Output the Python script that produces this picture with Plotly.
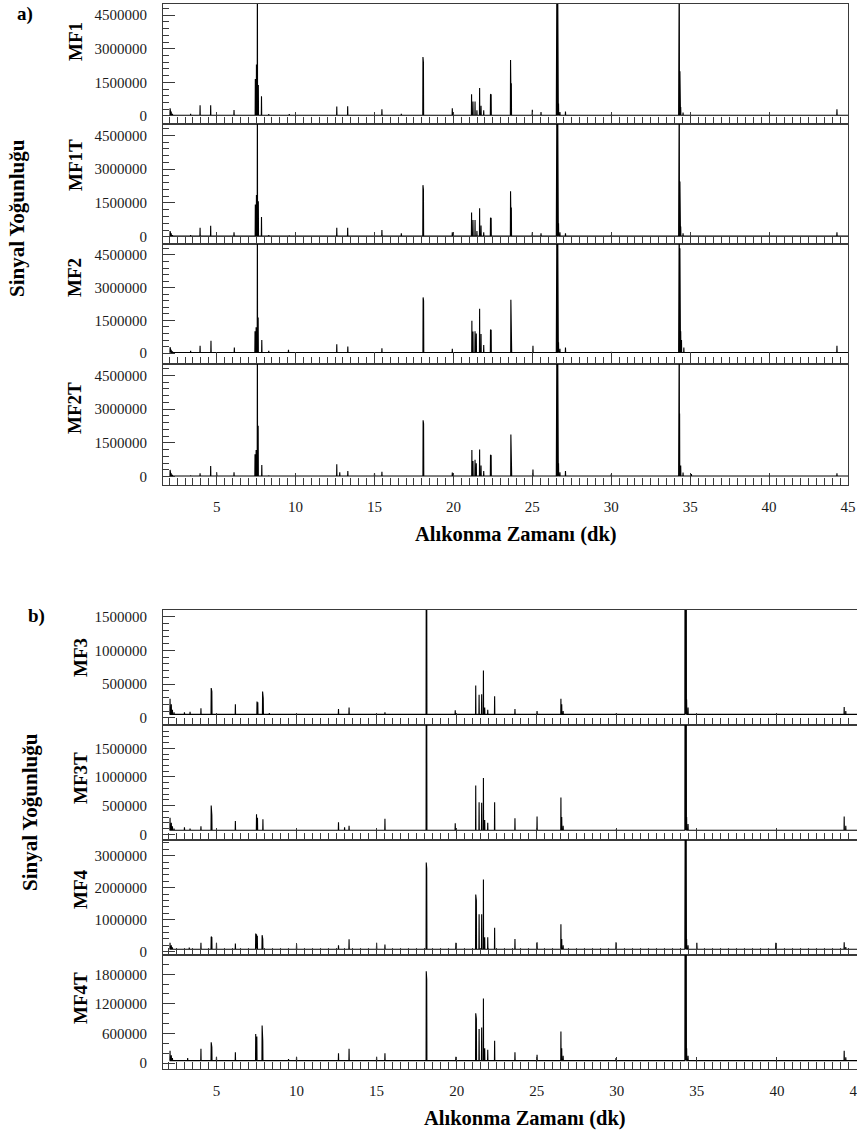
import plotly.graph_objects as go

W, H = 857, 1135

# ---------------- data: retention time (min) / peak intensity ----------------
# panel a
mf1_rt = [2.05, 2.12, 2.20, 3.35, 3.95, 4.62, 6.10, 7.45, 7.52, 7.58, 7.64, 7.84, 8.30, 9.60,
          12.61, 13.30, 15.47, 16.70, 18.07, 18.10, 19.93, 21.15, 21.24, 21.37, 21.49, 21.66,
          21.75, 21.92, 22.35, 22.39, 23.62, 23.67, 25.00, 25.55, 26.53, 26.56, 26.60, 26.66,
          26.75, 27.10, 30.00, 34.28, 34.31, 34.35, 34.40, 34.55, 44.30]
mf1_int = [340000, 200000, 100000, 100000, 480000, 480000, 270000, 1650000, 2300000, 7000000,
           1380000, 880000, 80000, 80000, 420000, 430000, 300000, 100000, 2630000, 2400000,
           340000, 970000, 640000, 640000, 250000, 1250000, 450000, 250000, 970000, 950000,
           2500000, 1460000, 280000, 170000, 7000000, 7000000, 7000000, 550000, 180000, 200000,
           60000, 7000000, 7000000, 2000000, 400000, 150000, 300000]

mf1t_rt = [2.05, 2.12, 2.20, 3.35, 3.95, 4.62, 6.10, 7.45, 7.52, 7.58, 7.64, 7.84, 8.30, 9.60,
           12.61, 13.30, 15.47, 16.70, 18.07, 18.10, 19.93, 21.15, 21.24, 21.37, 21.49, 21.66,
           21.75, 21.92, 22.35, 22.39, 23.30, 23.62, 23.67, 25.00, 25.55, 26.53, 26.56, 26.60,
           26.66, 26.75, 27.10, 30.00, 34.28, 34.31, 34.35, 34.40, 34.55, 44.30]
mf1t_int = [250000, 150000, 80000, 80000, 400000, 490000, 200000, 1430000, 1850000, 7000000,
            1580000, 880000, 80000, 60000, 400000, 400000, 300000, 150000, 2290000, 2100000,
            200000, 1080000, 740000, 740000, 250000, 1260000, 500000, 200000, 840000, 820000,
            50000, 2020000, 1300000, 200000, 150000, 7000000, 7000000, 7000000, 600000, 200000,
            150000, 80000, 7000000, 7000000, 2450000, 450000, 150000, 200000]

mf2_rt = [2.05, 2.12, 2.20, 3.35, 3.95, 4.64, 6.12, 7.43, 7.50, 7.58, 7.63, 7.86, 8.30, 9.55,
          12.61, 13.31, 15.47, 18.08, 18.11, 19.93, 21.17, 21.24, 21.37, 21.45, 21.66, 21.75,
          21.92, 22.35, 22.39, 23.64, 23.68, 25.04, 26.53, 26.56, 26.60, 26.66, 26.75, 27.10,
          30.00, 34.28, 34.31, 34.35, 34.40, 34.45, 34.60, 44.30]
mf2_int = [270000, 150000, 80000, 100000, 330000, 560000, 250000, 1000000, 1190000, 7000000,
           1630000, 600000, 100000, 150000, 410000, 300000, 220000, 2550000, 2400000, 200000,
           1480000, 990000, 1000000, 900000, 2030000, 870000, 370000, 1070000, 1050000, 2440000,
           1480000, 330000, 7000000, 7000000, 7000000, 500000, 200000, 250000, 50000, 7000000,
           7000000, 4800000, 1000000, 600000, 250000, 330000]

mf2t_rt = [2.05, 2.12, 2.20, 3.35, 3.95, 4.62, 5.00, 6.10, 7.43, 7.50, 7.58, 7.63, 7.86, 8.30,
           12.61, 12.80, 13.31, 15.00, 15.47, 18.08, 18.11, 19.93, 21.17, 21.24, 21.37, 21.45,
           21.66, 21.75, 21.92, 22.35, 22.39, 23.64, 23.68, 25.04, 26.53, 26.56, 26.60, 26.66,
           26.75, 27.10, 30.00, 34.28, 34.31, 34.33, 34.40, 34.55, 35.08, 44.30]
mf2t_int = [300000, 150000, 80000, 60000, 150000, 470000, 200000, 200000, 990000, 1180000,
            7000000, 2260000, 520000, 60000, 550000, 200000, 250000, 150000, 220000, 2500000,
            2350000, 180000, 1180000, 700000, 750000, 600000, 1200000, 500000, 250000, 960000,
            940000, 1870000, 1350000, 320000, 7000000, 7000000, 7000000, 600000, 200000, 250000,
            100000, 7000000, 7000000, 2800000, 500000, 180000, 120000, 150000]

# panel b
mf3_rt = [2.10, 2.18, 2.25, 2.35, 3.00, 3.35, 4.03, 4.67, 4.71, 6.18, 7.53, 7.58, 7.88, 7.92,
          8.30, 12.62, 13.28, 15.52, 18.10, 18.13, 19.91, 21.19, 21.40, 21.56, 21.67, 21.75,
          21.94, 22.37, 23.64, 25.02, 26.51, 26.56, 26.65, 29.95, 34.26, 34.29, 34.32, 34.36,
          34.45, 44.20, 44.30]
mf3_int = [280000, 200000, 120000, 80000, 80000, 90000, 140000, 440000, 390000, 200000,
           240000, 230000, 390000, 290000, 70000, 130000, 150000, 80000, 2200000, 2000000,
           110000, 480000, 340000, 350000, 700000, 150000, 120000, 320000, 130000, 100000,
           280000, 200000, 100000, 60000, 8000000, 8000000, 8000000, 270000, 150000, 160000,
           100000]

mf3t_rt = [2.10, 2.18, 2.25, 2.35, 3.00, 3.35, 4.03, 4.67, 4.71, 6.18, 7.50, 7.56, 7.90,
           12.62, 13.00, 13.28, 15.52, 18.10, 18.13, 19.91, 21.19, 21.40, 21.56, 21.67, 21.75,
           21.94, 22.37, 23.64, 25.02, 26.51, 26.56, 26.65, 29.95, 34.26, 34.29, 34.32, 34.36,
           34.45, 44.20, 44.30]
mf3t_int = [290000, 200000, 140000, 100000, 120000, 100000, 140000, 500000, 330000, 230000,
            350000, 290000, 260000, 210000, 120000, 150000, 270000, 2600000, 2400000, 190000,
            850000, 560000, 550000, 980000, 250000, 200000, 560000, 280000, 310000, 640000,
            300000, 150000, 80000, 8000000, 8000000, 8000000, 300000, 180000, 310000, 150000]

mf4_rt = [2.10, 2.18, 2.25, 3.30, 4.03, 4.67, 4.71, 5.00, 6.18, 7.45, 7.50, 7.55, 7.85, 7.89,
          10.00, 12.62, 13.28, 15.00, 15.52, 18.10, 18.13, 19.95, 21.19, 21.23, 21.40, 21.56,
          21.67, 21.75, 21.94, 22.37, 23.64, 25.02, 26.51, 26.56, 26.65, 29.95, 34.26, 34.29,
          34.32, 34.36, 34.45, 35.00, 39.93, 44.20, 44.30]
mf4_int = [280000, 200000, 140000, 130000, 280000, 470000, 450000, 280000, 260000, 570000,
           550000, 500000, 520000, 400000, 250000, 200000, 390000, 280000, 230000, 2790000,
           2600000, 280000, 1790000, 1600000, 1170000, 1170000, 2260000, 450000, 450000, 750000,
           400000, 300000, 860000, 400000, 200000, 300000, 8000000, 8000000, 8000000, 400000,
           200000, 280000, 280000, 300000, 150000]

mf4t_rt = [2.10, 2.18, 2.25, 3.20, 4.03, 4.67, 4.71, 5.00, 6.18, 7.45, 7.52, 7.85, 7.89, 9.50,
           10.00, 12.62, 13.28, 15.00, 15.52, 18.10, 18.13, 19.95, 21.19, 21.23, 21.40, 21.56,
           21.67, 21.75, 21.94, 22.37, 23.64, 25.02, 26.51, 26.56, 26.65, 29.95, 34.26, 34.29,
           34.32, 34.36, 34.45, 44.20, 44.30]
mf4t_int = [250000, 160000, 100000, 100000, 290000, 420000, 320000, 130000, 220000, 590000,
            540000, 760000, 450000, 80000, 130000, 200000, 290000, 130000, 200000, 1860000,
            1700000, 130000, 1010000, 900000, 690000, 720000, 1310000, 300000, 270000, 450000,
            220000, 170000, 640000, 300000, 150000, 100000, 8000000, 8000000, 8000000, 300000,
            150000, 250000, 120000]

names = ["MF1", "MF1T", "MF2", "MF2T", "MF3", "MF3T", "MF4", "MF4T"]
series_rt = [mf1_rt, mf1t_rt, mf2_rt, mf2t_rt, mf3_rt, mf3t_rt, mf4_rt, mf4t_rt]
series_int = [mf1_int, mf1t_int, mf2_int, mf2t_int, mf3_int, mf3t_int, mf4_int, mf4t_int]
baselines = [30000, 30000, 30000, 30000, 50000, 70000, 80000, 50000]

# ---------------- styling / layout parameters ----------------
FONT = "Liberation Serif"
TXT = "#1a1a1a"
AX = "#3a3a3a"

tops = [4, 124, 244, 364, 610, 725, 840, 955]
bots = [124, 244, 364, 485, 725, 840, 955, 1069]
yranges = [(-360000, 5000000), (-320000, 5000000), (-500000, 5000000), (-370000, 5000000),
           (-108000, 1600000), (-100000, 1907000), (-100000, 3490000), (-120000, 2190000)]
ymajor = [1500000] * 4 + [500000, 500000, 1000000, 600000]
yminor = [300000] * 4 + [100000, 100000, 200000, 200000]
xdom = [(163 / W, 848 / W)] * 4 + [(163 / W, 1.0)] * 4
xrng = [(1.6, 45.0)] * 4 + [(1.66, 45.0)] * 4
xend = [45.0] * 4 + [45.5] * 4
label_pos = [(75, 42), (75, 165), (75, 278), (75, 408),
             (80, 658), (80, 778), (80, 889), (80, 998)]


def spike_trace(rt, inten, base, t_end, w=0.012):
    pairs = sorted(zip(rt, inten))
    xs = [pairs[0][0] - 0.03]
    ys = [base]
    for t, h in pairs:
        xs += [t - w, t, t + w]
        ys += [base, h, base]
    xs.append(t_end)
    ys.append(base)
    return xs, ys


fig = go.Figure()
layout = dict(width=W, height=H, margin=dict(l=0, r=0, t=0, b=0, autoexpand=False),
              paper_bgcolor="white", plot_bgcolor="white", showlegend=False,
              font=dict(family=FONT, color=TXT, size=15))

for i in range(8):
    n = i + 1
    xa = "x" if n == 1 else f"x{n}"
    ya = "y" if n == 1 else f"y{n}"
    xs, ys = spike_trace(series_rt[i], series_int[i], baselines[i], xend[i])
    fig.add_trace(go.Scatter(x=xs, y=ys, mode="lines", xaxis=xa, yaxis=ya,
                             line=dict(color="black", width=1.1), hoverinfo="skip"))
    lo, hi = yranges[i]
    bottom_of_panel = i in (3, 7)
    layout["xaxis" if n == 1 else f"xaxis{n}"] = dict(
        domain=list(xdom[i]), range=list(xrng[i]), anchor=ya, automargin=False,
        showline=True, linecolor=AX, linewidth=1, mirror=True,
        showgrid=False, zeroline=False,
        ticks="inside", ticklen=12, tickwidth=1, tickcolor=AX,
        tickmode="linear", tick0=0, dtick=5,
        minor=dict(ticks="inside", ticklen=7, tickwidth=1, tickcolor=AX, dtick=0.5, tick0=0,
                   showgrid=False),
        showticklabels=bottom_of_panel, ticklabelstandoff=8, ticklabeloverflow="allow",
        tickfont=dict(family=FONT, size=15, color=TXT))
    mv = [k * yminor[i] for k in range(0, int(hi // yminor[i]) + 1)]
    layout["yaxis" if n == 1 else f"yaxis{n}"] = dict(
        domain=[1 - bots[i] / H, 1 - tops[i] / H], range=[lo, hi], anchor=xa, automargin=False,
        showline=True, linecolor=AX, linewidth=1, mirror=True,
        showgrid=False, zeroline=False,
        ticks="inside", ticklen=12, tickwidth=1, tickcolor=AX,
        tickmode="linear", tick0=0, dtick=ymajor[i], tickformat="d",
        minor=dict(ticks="inside", ticklen=6, tickwidth=1, tickcolor=AX,
                   tickmode="array", tickvals=mv, showgrid=False),
        ticklabelstandoff=12,
        tickfont=dict(family=FONT, size=15, color=TXT))

ann = []
for i, (px, py) in enumerate(label_pos):
    ann.append(dict(text=f"<b>{names[i]}</b>", x=px / W, y=1 - py / H, xref="paper", yref="paper",
                    showarrow=False, textangle=-90, xanchor="center", yanchor="middle",
                    font=dict(family=FONT, size=19, color="black")))
for px, py in [(17, 218), (30, 812)]:
    ann.append(dict(text="<b>Sinyal Yoğunluğu</b>", x=px / W, y=1 - py / H, xref="paper",
                    yref="paper", showarrow=False, textangle=-90, xanchor="center",
                    yanchor="middle", font=dict(family=FONT, size=21, color="black")))
for txt, px, py in [("a)", 25, 14), ("b)", 36, 616)]:
    ann.append(dict(text=f"<b>{txt}</b>", x=px / W, y=1 - py / H, xref="paper", yref="paper",
                    showarrow=False, xanchor="center", yanchor="middle",
                    font=dict(family=FONT, size=19, color="black")))
for px, py in [(516, 534), (525, 1118)]:
    ann.append(dict(text="<b>Alıkonma Zamanı (dk)</b>", x=px / W, y=1 - py / H, xref="paper",
                    yref="paper", showarrow=False, xanchor="center", yanchor="middle",
                    font=dict(family=FONT, size=20.5, color="black")))
layout["annotations"] = ann

fig.update_layout(**layout)
fig.write_html("out.html")
